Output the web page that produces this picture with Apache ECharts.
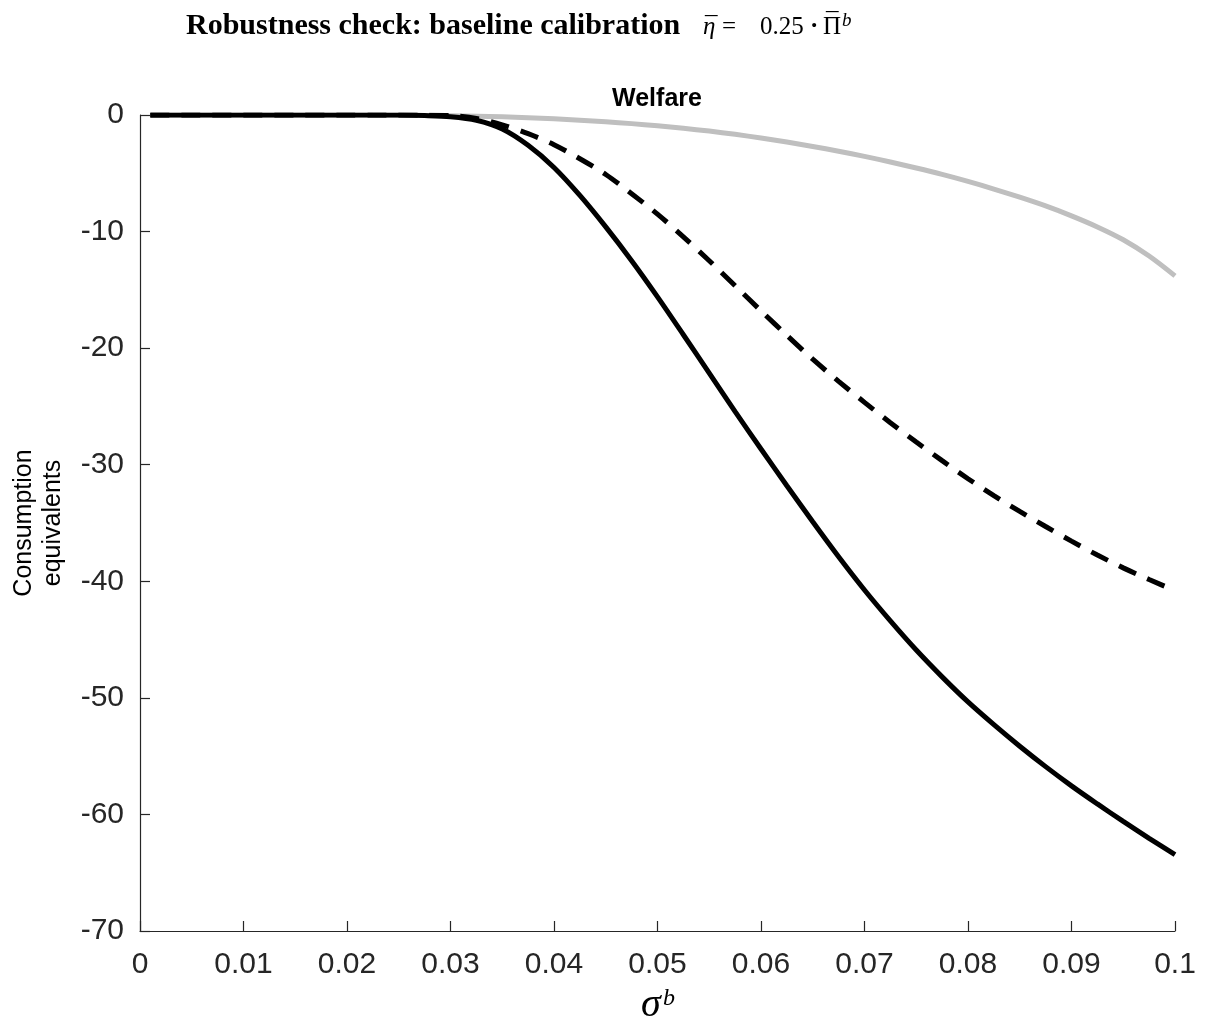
<!DOCTYPE html>
<html>
<head>
<meta charset="utf-8">
<title>Welfare</title>
<script src="https://cdn.jsdelivr.net/npm/echarts@6/dist/echarts.min.js"></script>
<style>
  html, body { margin: 0; padding: 0; background: #ffffff; }
  #chart { width: 1210px; height: 1020px; }
</style>
</head>
<body>
<div id="chart"></div>
<script>
// sigma^b grid points
const sigmaB = [0.001, 0.005, 0.01, 0.015, 0.02, 0.0225, 0.025, 0.0275, 0.03, 0.0325, 0.035, 0.0375,
  0.04, 0.0425, 0.045, 0.0475, 0.05, 0.0525, 0.055, 0.0575, 0.06, 0.0625, 0.065, 0.0675,
  0.07, 0.0725, 0.075, 0.0775, 0.08, 0.0825, 0.085, 0.0875, 0.09, 0.0925, 0.095, 0.0975, 0.1];

// welfare in consumption equivalents, three specifications
const welfareSolid = [0, 0, 0, 0, 0, 0, -0.01, -0.05, -0.15, -0.45, -1.2, -2.6,
  -4.5, -6.9, -9.6, -12.5, -15.6, -18.85, -22.15, -25.45, -28.65, -31.8, -34.9, -37.9,
  -40.75, -43.4, -45.9, -48.2, -50.35, -52.3, -54.15, -55.9, -57.55, -59.1, -60.6, -62.05, -63.45];

const welfareDashed = [0, 0, 0, 0, 0, 0, 0, -0.01, -0.05, -0.3, -0.85, -1.6,
  -2.55, -3.75, -5.1, -6.75, -8.5, -10.45, -12.5, -14.65, -16.8, -18.9, -20.95, -22.85,
  -24.65, -26.4, -28.05, -29.65, -31.2, -32.65, -34.0, -35.3, -36.55, -37.75, -38.85, -39.85, -40.8];

const welfareGray = [0, 0, 0, 0, 0, -0.01, -0.02, -0.04, -0.06, -0.1, -0.16, -0.24,
  -0.33, -0.45, -0.58, -0.74, -0.92, -1.14, -1.38, -1.66, -1.97, -2.32, -2.7, -3.11,
  -3.55, -4.03, -4.55, -5.1, -5.7, -6.35, -7.05, -7.8, -8.65, -9.6, -10.7, -12.1, -13.8];

const xTickLabels = ['0', '0.01', '0.02', '0.03', '0.04', '0.05', '0.06', '0.07', '0.08', '0.09', '0.1'];
const yTickLabels = ['-70', '-60', '-50', '-40', '-30', '-20', '-10', '0'];

const pairs = ys => sigmaB.map((x, i) => [x, ys[i]]);

const axisColor = '#262626';
const sansFont = '"Liberation Sans", Arial, Helvetica, sans-serif';
const serifFont = '"Liberation Serif", "Times New Roman", serif';

// heading (bold caption + formula) and the x-axis symbol, set piece by piece
const mathFont = '25px ' + serifFont;
const mathItalic = 'italic 25px ' + serifFont;
const textPieces = [
  { text: 'Robustness check: baseline calibration', x: 186, y: 26, font: 'bold 30px ' + serifFont },
  { text: 'η', x: 703, y: 27, font: mathItalic },
  { text: '¯', x: 705, y: 27, font: mathFont },
  { text: '=', x: 722, y: 27, font: mathFont },
  { text: '0.25', x: 760, y: 27, font: mathFont },
  { text: '·', x: 810, y: 27, font: 'bold 25px ' + serifFont },
  { text: 'Π', x: 823, y: 27, font: mathFont },
  { text: '¯', x: 826, y: 23, font: mathFont },
  { text: 'b', x: 842, y: 21, font: 'italic 19px ' + serifFont },
  // x-axis name: sigma^b
  { text: 'σ', x: 641, y: 1005, font: 'italic 40px ' + serifFont },
  { text: 'b', x: 663, y: 999, font: 'italic 24px ' + serifFont }
];

const chart = echarts.init(document.getElementById('chart'), null, { renderer: 'canvas' });

chart.setOption({
  animation: false,
  backgroundColor: '#ffffff',
  graphic: textPieces.map(h => ({
    type: 'text',
    x: h.x,
    y: h.y,
    silent: true,
    style: { text: h.text, font: h.font, fill: '#000', align: 'left', verticalAlign: 'middle' }
  })),
  title: {
    text: 'Welfare',
    left: 652,
    top: 82,
    textAlign: 'center',
    textStyle: { fontFamily: sansFont, fontWeight: 'bold', fontSize: 25, color: '#000' }
  },
  grid: { left: 140, right: 35, top: 115, bottom: 89, containLabel: false, outerBoundsMode: 'none' },
  xAxis: {
    type: 'value',
    min: 0,
    max: 0.1,
    interval: 0.01,
    axisLine: { show: true, onZero: false, lineStyle: { color: axisColor, width: 1.2 } },
    axisTick: { show: true, inside: true, length: 10, lineStyle: { color: axisColor, width: 1.2 } },
    axisLabel: {
      margin: 19,
      fontFamily: sansFont,
      fontSize: 30,
      color: axisColor,
      formatter: v => xTickLabels[Math.round(v / 0.01)]
    },
    splitLine: { show: false }
  },
  yAxis: {
    type: 'value',
    min: -70,
    max: 0,
    interval: 10,
    name: 'Consumption\nequivalents',
    nameLocation: 'middle',
    nameGap: 72,
    nameRotate: 90,
    nameTextStyle: { fontFamily: sansFont, fontSize: 25, color: '#000', lineHeight: 29, align: 'center' },
    axisLine: { show: true, onZero: false, lineStyle: { color: axisColor, width: 1.2 } },
    axisTick: { show: true, inside: true, length: 10, lineStyle: { color: axisColor, width: 1.2 } },
    axisLabel: {
      margin: 16,
      fontFamily: sansFont,
      fontSize: 30,
      color: axisColor,
      formatter: v => yTickLabels[Math.round((v + 70) / 10)]
    },
    splitLine: { show: false }
  },
  series: [
    {
      name: 'gray',
      type: 'line',
      data: pairs(welfareGray),
      smooth: 0.3,
      symbol: 'none',
      lineStyle: { color: '#bfbfbf', width: 5 },
      z: 2
    },
    {
      name: 'solid',
      type: 'line',
      data: pairs(welfareSolid),
      smooth: 0.3,
      symbol: 'none',
      lineStyle: { color: '#000000', width: 5 },
      z: 3
    },
    {
      name: 'dashed',
      type: 'line',
      data: pairs(welfareDashed),
      smooth: 0.3,
      symbol: 'none',
      lineStyle: { color: '#000000', width: 5, type: [19, 12] },
      z: 4
    }
  ]
});
</script>
</body>
</html>
